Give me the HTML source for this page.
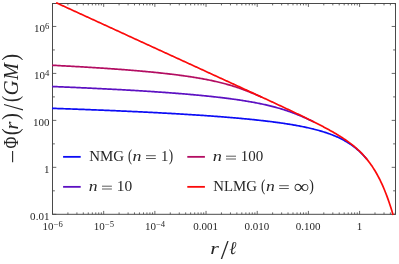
<!DOCTYPE html><html><head><meta charset="utf-8"><style>
html,body{margin:0;padding:0;background:#fff;}svg{display:block;will-change:transform;}text{font-family:"Liberation Serif",serif;fill:#262626;}.i{font-style:italic;}
</style></head><body>
<svg width="399" height="264" viewBox="0 0 399 264">
<rect width="399" height="264" fill="#fff"/>
<defs><clipPath id="cp"><rect x="51.3" y="2.0" width="345.0" height="213.4"/></clipPath></defs>
<rect x="52.5" y="3.5" width="343.0" height="210.8" fill="none" stroke="#4a4a4a" stroke-width="1.0"/>
<path d="M52.50,214.3 v-3.4 M52.50,3.5 v3.4 M67.91,214.3 v-1.9 M67.91,3.5 v1.9 M76.92,214.3 v-1.9 M76.92,3.5 v1.9 M83.31,214.3 v-1.9 M83.31,3.5 v1.9 M88.27,214.3 v-1.9 M88.27,3.5 v1.9 M92.33,214.3 v-1.9 M92.33,3.5 v1.9 M95.75,214.3 v-1.9 M95.75,3.5 v1.9 M98.72,214.3 v-1.9 M98.72,3.5 v1.9 M101.34,214.3 v-1.9 M101.34,3.5 v1.9 M103.68,214.3 v-3.4 M103.68,3.5 v3.4 M119.09,214.3 v-1.9 M119.09,3.5 v1.9 M128.10,214.3 v-1.9 M128.10,3.5 v1.9 M134.49,214.3 v-1.9 M134.49,3.5 v1.9 M139.45,214.3 v-1.9 M139.45,3.5 v1.9 M143.51,214.3 v-1.9 M143.51,3.5 v1.9 M146.93,214.3 v-1.9 M146.93,3.5 v1.9 M149.90,214.3 v-1.9 M149.90,3.5 v1.9 M152.52,214.3 v-1.9 M152.52,3.5 v1.9 M154.86,214.3 v-3.4 M154.86,3.5 v3.4 M170.27,214.3 v-1.9 M170.27,3.5 v1.9 M179.28,214.3 v-1.9 M179.28,3.5 v1.9 M185.67,214.3 v-1.9 M185.67,3.5 v1.9 M190.63,214.3 v-1.9 M190.63,3.5 v1.9 M194.69,214.3 v-1.9 M194.69,3.5 v1.9 M198.11,214.3 v-1.9 M198.11,3.5 v1.9 M201.08,214.3 v-1.9 M201.08,3.5 v1.9 M203.70,214.3 v-1.9 M203.70,3.5 v1.9 M206.04,214.3 v-3.4 M206.04,3.5 v3.4 M221.45,214.3 v-1.9 M221.45,3.5 v1.9 M230.46,214.3 v-1.9 M230.46,3.5 v1.9 M236.85,214.3 v-1.9 M236.85,3.5 v1.9 M241.81,214.3 v-1.9 M241.81,3.5 v1.9 M245.87,214.3 v-1.9 M245.87,3.5 v1.9 M249.29,214.3 v-1.9 M249.29,3.5 v1.9 M252.26,214.3 v-1.9 M252.26,3.5 v1.9 M254.88,214.3 v-1.9 M254.88,3.5 v1.9 M257.22,214.3 v-3.4 M257.22,3.5 v3.4 M272.63,214.3 v-1.9 M272.63,3.5 v1.9 M281.64,214.3 v-1.9 M281.64,3.5 v1.9 M288.03,214.3 v-1.9 M288.03,3.5 v1.9 M292.99,214.3 v-1.9 M292.99,3.5 v1.9 M297.05,214.3 v-1.9 M297.05,3.5 v1.9 M300.47,214.3 v-1.9 M300.47,3.5 v1.9 M303.44,214.3 v-1.9 M303.44,3.5 v1.9 M306.06,214.3 v-1.9 M306.06,3.5 v1.9 M308.40,214.3 v-3.4 M308.40,3.5 v3.4 M323.81,214.3 v-1.9 M323.81,3.5 v1.9 M332.82,214.3 v-1.9 M332.82,3.5 v1.9 M339.21,214.3 v-1.9 M339.21,3.5 v1.9 M344.17,214.3 v-1.9 M344.17,3.5 v1.9 M348.23,214.3 v-1.9 M348.23,3.5 v1.9 M351.65,214.3 v-1.9 M351.65,3.5 v1.9 M354.62,214.3 v-1.9 M354.62,3.5 v1.9 M357.24,214.3 v-1.9 M357.24,3.5 v1.9 M359.58,214.3 v-3.4 M359.58,3.5 v3.4 M374.99,214.3 v-1.9 M374.99,3.5 v1.9 M384.00,214.3 v-1.9 M384.00,3.5 v1.9 M390.39,214.3 v-1.9 M390.39,3.5 v1.9 M395.35,214.3 v-1.9 M395.35,3.5 v1.9 M52.5,214.30 h3.8 M395.5,214.30 h-3.8 M52.5,190.82 h2.4 M395.5,190.82 h-2.4 M52.5,167.34 h3.8 M395.5,167.34 h-3.8 M52.5,143.86 h2.4 M395.5,143.86 h-2.4 M52.5,120.38 h3.8 M395.5,120.38 h-3.8 M52.5,96.90 h2.4 M395.5,96.90 h-2.4 M52.5,73.42 h3.8 M395.5,73.42 h-3.8 M52.5,49.94 h2.4 M395.5,49.94 h-2.4 M52.5,26.46 h3.8 M395.5,26.46 h-3.8" stroke="#444" stroke-width="0.8" fill="none"/>
<g fill="none" stroke-width="1.7" stroke-linejoin="round" stroke-linecap="butt">
<path d="M52.00,108.32 L53.00,108.35 L54.00,108.39 L55.00,108.42 L56.00,108.46 L57.00,108.49 L58.00,108.53 L59.00,108.56 L60.00,108.60 L61.00,108.63 L62.00,108.67 L63.00,108.70 L64.00,108.74 L65.00,108.77 L66.00,108.81 L67.00,108.84 L68.00,108.88 L69.00,108.91 L70.00,108.95 L71.00,108.99 L72.00,109.02 L73.00,109.06 L74.00,109.10 L75.00,109.13 L76.00,109.17 L77.00,109.21 L78.00,109.24 L79.00,109.28 L80.00,109.32 L81.00,109.36 L82.00,109.39 L83.00,109.43 L84.00,109.47 L85.00,109.51 L86.00,109.55 L87.00,109.58 L88.00,109.62 L89.00,109.66 L90.00,109.70 L91.00,109.74 L92.00,109.78 L93.00,109.82 L94.00,109.86 L95.00,109.90 L96.00,109.94 L97.00,109.98 L98.00,110.02 L99.00,110.06 L100.00,110.10 L101.00,110.14 L102.00,110.18 L103.00,110.22 L104.00,110.26 L105.00,110.30 L106.00,110.34 L107.00,110.38 L108.00,110.43 L109.00,110.47 L110.00,110.51 L111.00,110.55 L112.00,110.59 L113.00,110.64 L114.00,110.68 L115.00,110.72 L116.00,110.77 L117.00,110.81 L118.00,110.85 L119.00,110.90 L120.00,110.94 L121.00,110.98 L122.00,111.03 L123.00,111.07 L124.00,111.12 L125.00,111.16 L126.00,111.21 L127.00,111.25 L128.00,111.30 L129.00,111.34 L130.00,111.39 L131.00,111.44 L132.00,111.48 L133.00,111.53 L134.00,111.57 L135.00,111.62 L136.00,111.67 L137.00,111.72 L138.00,111.76 L139.00,111.81 L140.00,111.86 L141.00,111.91 L142.00,111.96 L143.00,112.00 L144.00,112.05 L145.00,112.10 L146.00,112.15 L147.00,112.20 L148.00,112.25 L149.00,112.30 L150.00,112.35 L151.00,112.40 L152.00,112.45 L153.00,112.50 L154.00,112.56 L155.00,112.61 L156.00,112.66 L157.00,112.71 L158.00,112.76 L159.00,112.82 L160.00,112.87 L161.00,112.92 L162.00,112.98 L163.00,113.03 L164.00,113.08 L165.00,113.14 L166.00,113.19 L167.00,113.25 L168.00,113.30 L169.00,113.36 L170.00,113.41 L171.00,113.47 L172.00,113.53 L173.00,113.58 L174.00,113.64 L175.00,113.70 L176.00,113.76 L177.00,113.81 L178.00,113.87 L179.00,113.93 L180.00,113.99 L181.00,114.05 L182.00,114.11 L183.00,114.17 L184.00,114.23 L185.00,114.29 L186.00,114.35 L187.00,114.41 L188.00,114.48 L189.00,114.54 L190.00,114.60 L191.00,114.66 L192.00,114.73 L193.00,114.79 L194.00,114.86 L195.00,114.92 L196.00,114.98 L197.00,115.05 L198.00,115.12 L199.00,115.18 L200.00,115.25 L201.00,115.32 L202.00,115.38 L203.00,115.45 L204.00,115.52 L205.00,115.59 L206.00,115.66 L207.00,115.73 L208.00,115.80 L209.00,115.87 L210.00,115.94 L211.00,116.01 L212.00,116.09 L213.00,116.16 L214.00,116.23 L215.00,116.31 L216.00,116.38 L217.00,116.46 L218.00,116.53 L219.00,116.61 L220.00,116.69 L221.00,116.76 L222.00,116.84 L223.00,116.92 L224.00,117.00 L225.00,117.08 L226.00,117.16 L227.00,117.24 L228.00,117.32 L229.00,117.41 L230.00,117.49 L231.00,117.57 L232.00,117.66 L233.00,117.74 L234.00,117.83 L235.00,117.92 L236.00,118.00 L237.00,118.09 L238.00,118.18 L239.00,118.27 L240.00,118.36 L241.00,118.45 L242.00,118.54 L243.00,118.64 L244.00,118.73 L245.00,118.83 L246.00,118.92 L247.00,119.02 L248.00,119.12 L249.00,119.21 L250.00,119.31 L251.00,119.41 L252.00,119.51 L253.00,119.62 L254.00,119.72 L255.00,119.82 L256.00,119.93 L257.00,120.04 L258.00,120.14 L259.00,120.25 L260.00,120.36 L261.00,120.47 L262.00,120.59 L263.00,120.70 L264.00,120.82 L265.00,120.93 L266.00,121.05 L267.00,121.17 L268.00,121.29 L269.00,121.41 L270.00,121.53 L271.00,121.66 L272.00,121.78 L273.00,121.91 L274.00,122.04 L275.00,122.17 L276.00,122.31 L277.00,122.44 L278.00,122.58 L279.00,122.71 L280.00,122.85 L281.00,123.00 L282.00,123.14 L283.00,123.28 L284.00,123.43 L285.00,123.58 L286.00,123.73 L287.00,123.89 L288.00,124.05 L289.00,124.20 L290.00,124.37 L291.00,124.53 L292.00,124.70 L293.00,124.87 L294.00,125.04 L295.00,125.21 L296.00,125.39 L297.00,125.57 L298.00,125.75 L299.00,125.94 L300.00,126.13 L301.00,126.32 L302.00,126.52 L303.00,126.72 L304.00,126.92 L305.00,127.13 L306.00,127.34 L307.00,127.56 L308.00,127.78 L309.00,128.00 L310.00,128.23 L311.00,128.47 L312.00,128.71 L313.00,128.95 L314.00,129.20 L315.00,129.45 L316.00,129.71 L317.00,129.98 L318.00,130.25 L319.00,130.53 L320.00,130.81 L321.00,131.10 L322.00,131.40 L323.00,131.70 L324.00,132.01 L325.00,132.33 L326.00,132.66 L327.00,133.00 L328.00,133.34 L329.00,133.69 L330.00,134.06 L331.00,134.43 L332.00,134.81 L333.00,135.20 L334.00,135.61 L335.00,136.02 L336.00,136.45 L337.00,136.89 L338.00,137.34 L339.00,137.81 L340.00,138.29 L341.00,138.78 L342.00,139.29 L343.00,139.81 L344.00,140.35 L345.00,140.91 L346.00,141.49 L347.00,142.08 L348.00,142.70 L349.00,143.33 L350.00,143.99 L351.00,144.66 L352.00,145.36 L353.00,146.09 L354.00,146.84 L355.00,147.61 L356.00,148.41 L357.00,149.24 L358.00,150.10 L359.00,150.99 L360.00,151.92 L361.00,152.87 L362.00,153.87 L363.00,154.90 L364.00,155.96 L365.00,157.07 L366.00,158.22 L367.00,159.42" stroke="#0c0cf5"/>
<path d="M52.00,86.50 L53.00,86.54 L54.00,86.58 L55.00,86.62 L56.00,86.66 L57.00,86.70 L58.00,86.74 L59.00,86.79 L60.00,86.83 L61.00,86.87 L62.00,86.91 L63.00,86.95 L64.00,86.99 L65.00,87.04 L66.00,87.08 L67.00,87.12 L68.00,87.16 L69.00,87.21 L70.00,87.25 L71.00,87.29 L72.00,87.33 L73.00,87.38 L74.00,87.42 L75.00,87.47 L76.00,87.51 L77.00,87.55 L78.00,87.60 L79.00,87.64 L80.00,87.69 L81.00,87.73 L82.00,87.78 L83.00,87.82 L84.00,87.87 L85.00,87.91 L86.00,87.96 L87.00,88.01 L88.00,88.05 L89.00,88.10 L90.00,88.15 L91.00,88.19 L92.00,88.24 L93.00,88.29 L94.00,88.34 L95.00,88.38 L96.00,88.43 L97.00,88.48 L98.00,88.53 L99.00,88.58 L100.00,88.63 L101.00,88.68 L102.00,88.73 L103.00,88.78 L104.00,88.83 L105.00,88.88 L106.00,88.93 L107.00,88.98 L108.00,89.03 L109.00,89.08 L110.00,89.13 L111.00,89.19 L112.00,89.24 L113.00,89.29 L114.00,89.34 L115.00,89.40 L116.00,89.45 L117.00,89.50 L118.00,89.56 L119.00,89.61 L120.00,89.66 L121.00,89.72 L122.00,89.77 L123.00,89.83 L124.00,89.88 L125.00,89.94 L126.00,90.00 L127.00,90.05 L128.00,90.11 L129.00,90.17 L130.00,90.22 L131.00,90.28 L132.00,90.34 L133.00,90.40 L134.00,90.46 L135.00,90.52 L136.00,90.58 L137.00,90.64 L138.00,90.70 L139.00,90.76 L140.00,90.82 L141.00,90.88 L142.00,90.94 L143.00,91.00 L144.00,91.07 L145.00,91.13 L146.00,91.19 L147.00,91.25 L148.00,91.32 L149.00,91.38 L150.00,91.45 L151.00,91.51 L152.00,91.58 L153.00,91.64 L154.00,91.71 L155.00,91.78 L156.00,91.84 L157.00,91.91 L158.00,91.98 L159.00,92.05 L160.00,92.12 L161.00,92.19 L162.00,92.26 L163.00,92.33 L164.00,92.40 L165.00,92.47 L166.00,92.54 L167.00,92.62 L168.00,92.69 L169.00,92.76 L170.00,92.84 L171.00,92.91 L172.00,92.99 L173.00,93.06 L174.00,93.14 L175.00,93.22 L176.00,93.29 L177.00,93.37 L178.00,93.45 L179.00,93.53 L180.00,93.61 L181.00,93.69 L182.00,93.77 L183.00,93.85 L184.00,93.94 L185.00,94.02 L186.00,94.10 L187.00,94.19 L188.00,94.27 L189.00,94.36 L190.00,94.45 L191.00,94.53 L192.00,94.62 L193.00,94.71 L194.00,94.80 L195.00,94.89 L196.00,94.98 L197.00,95.08 L198.00,95.17 L199.00,95.26 L200.00,95.36 L201.00,95.45 L202.00,95.55 L203.00,95.65 L204.00,95.75 L205.00,95.84 L206.00,95.94 L207.00,96.05 L208.00,96.15 L209.00,96.25 L210.00,96.36 L211.00,96.46 L212.00,96.57 L213.00,96.68 L214.00,96.79 L215.00,96.90 L216.00,97.01 L217.00,97.12 L218.00,97.23 L219.00,97.35 L220.00,97.46 L221.00,97.58 L222.00,97.70 L223.00,97.82 L224.00,97.94 L225.00,98.07 L226.00,98.19 L227.00,98.32 L228.00,98.44 L229.00,98.57 L230.00,98.70 L231.00,98.84 L232.00,98.97 L233.00,99.11 L234.00,99.25 L235.00,99.38 L236.00,99.53 L237.00,99.67 L238.00,99.81 L239.00,99.96 L240.00,100.11 L241.00,100.26 L242.00,100.42 L243.00,100.57 L244.00,100.73 L245.00,100.89 L246.00,101.05 L247.00,101.22 L248.00,101.39 L249.00,101.56 L250.00,101.73 L251.00,101.91 L252.00,102.08 L253.00,102.26 L254.00,102.45 L255.00,102.64 L256.00,102.83 L257.00,103.02 L258.00,103.22 L259.00,103.42 L260.00,103.62 L261.00,103.83 L262.00,104.04 L263.00,104.25 L264.00,104.47 L265.00,104.69 L266.00,104.92 L267.00,105.15 L268.00,105.38 L269.00,105.62 L270.00,105.86 L271.00,106.11 L272.00,106.36 L273.00,106.62 L274.00,106.88 L275.00,107.15 L276.00,107.42 L277.00,107.70 L278.00,107.98 L279.00,108.26 L280.00,108.56 L281.00,108.86 L282.00,109.16 L283.00,109.47 L284.00,109.78 L285.00,110.10 L286.00,110.43 L287.00,110.76 L288.00,111.10 L289.00,111.45 L290.00,111.80 L291.00,112.16 L292.00,112.52 L293.00,112.89 L294.00,113.27 L295.00,113.65 L296.00,114.04 L297.00,114.44 L298.00,114.84 L299.00,115.25 L300.00,115.66 L301.00,116.08 L302.00,116.51 L303.00,116.94 L304.00,117.38 L305.00,117.82 L306.00,118.27 L307.00,118.72 L308.00,119.18 L309.00,119.65 L310.00,120.11 L311.00,120.59 L312.00,121.07 L313.00,121.55 L314.00,122.04" stroke="#5c10c2"/>
<path d="M52.00,65.27 L53.00,65.32 L54.00,65.37 L55.00,65.42 L56.00,65.47 L57.00,65.52 L58.00,65.58 L59.00,65.63 L60.00,65.68 L61.00,65.73 L62.00,65.78 L63.00,65.84 L64.00,65.89 L65.00,65.94 L66.00,66.00 L67.00,66.05 L68.00,66.10 L69.00,66.16 L70.00,66.21 L71.00,66.27 L72.00,66.32 L73.00,66.38 L74.00,66.43 L75.00,66.49 L76.00,66.54 L77.00,66.60 L78.00,66.66 L79.00,66.72 L80.00,66.77 L81.00,66.83 L82.00,66.89 L83.00,66.95 L84.00,67.01 L85.00,67.07 L86.00,67.13 L87.00,67.19 L88.00,67.25 L89.00,67.31 L90.00,67.37 L91.00,67.43 L92.00,67.49 L93.00,67.55 L94.00,67.62 L95.00,67.68 L96.00,67.74 L97.00,67.81 L98.00,67.87 L99.00,67.93 L100.00,68.00 L101.00,68.07 L102.00,68.13 L103.00,68.20 L104.00,68.26 L105.00,68.33 L106.00,68.40 L107.00,68.47 L108.00,68.53 L109.00,68.60 L110.00,68.67 L111.00,68.74 L112.00,68.81 L113.00,68.88 L114.00,68.96 L115.00,69.03 L116.00,69.10 L117.00,69.17 L118.00,69.25 L119.00,69.32 L120.00,69.39 L121.00,69.47 L122.00,69.54 L123.00,69.62 L124.00,69.70 L125.00,69.77 L126.00,69.85 L127.00,69.93 L128.00,70.01 L129.00,70.09 L130.00,70.17 L131.00,70.25 L132.00,70.33 L133.00,70.41 L134.00,70.50 L135.00,70.58 L136.00,70.67 L137.00,70.75 L138.00,70.84 L139.00,70.92 L140.00,71.01 L141.00,71.10 L142.00,71.19 L143.00,71.28 L144.00,71.37 L145.00,71.46 L146.00,71.55 L147.00,71.64 L148.00,71.73 L149.00,71.83 L150.00,71.92 L151.00,72.02 L152.00,72.12 L153.00,72.22 L154.00,72.31 L155.00,72.41 L156.00,72.52 L157.00,72.62 L158.00,72.72 L159.00,72.82 L160.00,72.93 L161.00,73.03 L162.00,73.14 L163.00,73.25 L164.00,73.36 L165.00,73.47 L166.00,73.58 L167.00,73.70 L168.00,73.81 L169.00,73.93 L170.00,74.04 L171.00,74.16 L172.00,74.28 L173.00,74.40 L174.00,74.52 L175.00,74.65 L176.00,74.77 L177.00,74.90 L178.00,75.03 L179.00,75.16 L180.00,75.29 L181.00,75.42 L182.00,75.56 L183.00,75.69 L184.00,75.83 L185.00,75.97 L186.00,76.12 L187.00,76.26 L188.00,76.41 L189.00,76.55 L190.00,76.70 L191.00,76.86 L192.00,77.01 L193.00,77.17 L194.00,77.33 L195.00,77.49 L196.00,77.65 L197.00,77.82 L198.00,77.99 L199.00,78.16 L200.00,78.33 L201.00,78.51 L202.00,78.69 L203.00,78.87 L204.00,79.06 L205.00,79.25 L206.00,79.44 L207.00,79.63 L208.00,79.83 L209.00,80.03 L210.00,80.24 L211.00,80.44 L212.00,80.66 L213.00,80.87 L214.00,81.09 L215.00,81.31 L216.00,81.54 L217.00,81.77 L218.00,82.01 L219.00,82.25 L220.00,82.49 L221.00,82.74 L222.00,82.99 L223.00,83.25 L224.00,83.51 L225.00,83.78 L226.00,84.05 L227.00,84.32 L228.00,84.61 L229.00,84.89 L230.00,85.18 L231.00,85.48 L232.00,85.78 L233.00,86.09 L234.00,86.41 L235.00,86.73 L236.00,87.05 L237.00,87.38 L238.00,87.72 L239.00,88.06 L240.00,88.41 L241.00,88.76 L242.00,89.12 L243.00,89.48 L244.00,89.85 L245.00,90.23 L246.00,90.61 L247.00,90.99 L248.00,91.38 L249.00,91.78 L250.00,92.18 L251.00,92.59 L252.00,93.00 L253.00,93.42 L254.00,93.84 L255.00,94.26 L256.00,94.69 L257.00,95.12 L258.00,95.55 L259.00,95.99 L260.00,96.43 L261.00,96.88 L262.00,97.33" stroke="#b30d62"/>
<path d="M56.10,2.70 L57.00,3.12 L58.00,3.57 L59.00,4.03 L60.00,4.49 L61.00,4.95 L62.00,5.41 L63.00,5.87 L64.00,6.33 L65.00,6.79 L66.00,7.24 L67.00,7.70 L68.00,8.16 L69.00,8.62 L70.00,9.08 L71.00,9.54 L72.00,10.00 L73.00,10.46 L74.00,10.91 L75.00,11.37 L76.00,11.83 L77.00,12.29 L78.00,12.75 L79.00,13.21 L80.00,13.67 L81.00,14.13 L82.00,14.58 L83.00,15.04 L84.00,15.50 L85.00,15.96 L86.00,16.42 L87.00,16.88 L88.00,17.34 L89.00,17.80 L90.00,18.25 L91.00,18.71 L92.00,19.17 L93.00,19.63 L94.00,20.09 L95.00,20.55 L96.00,21.01 L97.00,21.47 L98.00,21.92 L99.00,22.38 L100.00,22.84 L101.00,23.30 L102.00,23.76 L103.00,24.22 L104.00,24.68 L105.00,25.14 L106.00,25.59 L107.00,26.05 L108.00,26.51 L109.00,26.97 L110.00,27.43 L111.00,27.89 L112.00,28.35 L113.00,28.81 L114.00,29.27 L115.00,29.72 L116.00,30.18 L117.00,30.64 L118.00,31.10 L119.00,31.56 L120.00,32.02 L121.00,32.48 L122.00,32.94 L123.00,33.39 L124.00,33.85 L125.00,34.31 L126.00,34.77 L127.00,35.23 L128.00,35.69 L129.00,36.15 L130.00,36.61 L131.00,37.06 L132.00,37.52 L133.00,37.98 L134.00,38.44 L135.00,38.90 L136.00,39.36 L137.00,39.82 L138.00,40.28 L139.00,40.73 L140.00,41.19 L141.00,41.65 L142.00,42.11 L143.00,42.57 L144.00,43.03 L145.00,43.49 L146.00,43.95 L147.00,44.41 L148.00,44.86 L149.00,45.32 L150.00,45.78 L151.00,46.24 L152.00,46.70 L153.00,47.16 L154.00,47.62 L155.00,48.08 L156.00,48.53 L157.00,48.99 L158.00,49.45 L159.00,49.91 L160.00,50.37 L161.00,50.83 L162.00,51.29 L163.00,51.75 L164.00,52.20 L165.00,52.66 L166.00,53.12 L167.00,53.58 L168.00,54.04 L169.00,54.50 L170.00,54.96 L171.00,55.42 L172.00,55.88 L173.00,56.33 L174.00,56.79 L175.00,57.25 L176.00,57.71 L177.00,58.17 L178.00,58.63 L179.00,59.09 L180.00,59.55 L181.00,60.01 L182.00,60.46 L183.00,60.92 L184.00,61.38 L185.00,61.84 L186.00,62.30 L187.00,62.76 L188.00,63.22 L189.00,63.68 L190.00,64.14 L191.00,64.59 L192.00,65.05 L193.00,65.51 L194.00,65.97 L195.00,66.43 L196.00,66.89 L197.00,67.35 L198.00,67.81 L199.00,68.27 L200.00,68.72 L201.00,69.18 L202.00,69.64 L203.00,70.10 L204.00,70.56 L205.00,71.02 L206.00,71.48 L207.00,71.94 L208.00,72.40 L209.00,72.86 L210.00,73.32 L211.00,73.77 L212.00,74.23 L213.00,74.69 L214.00,75.15 L215.00,75.61 L216.00,76.07 L217.00,76.53 L218.00,76.99 L219.00,77.45 L220.00,77.91 L221.00,78.37 L222.00,78.83 L223.00,79.29 L224.00,79.75 L225.00,80.21 L226.00,80.67 L227.00,81.12 L228.00,81.58 L229.00,82.04 L230.00,82.50 L231.00,82.96 L232.00,83.42 L233.00,83.88 L234.00,84.34 L235.00,84.80 L236.00,85.26 L237.00,85.72 L238.00,86.18 L239.00,86.64 L240.00,87.10 L241.00,87.56 L242.00,88.02 L243.00,88.48 L244.00,88.94 L245.00,89.41 L246.00,89.87 L247.00,90.33 L248.00,90.79 L249.00,91.25 L250.00,91.71 L251.00,92.17 L252.00,92.63 L253.00,93.09 L254.00,93.55 L255.00,94.02 L256.00,94.48 L257.00,94.94 L258.00,95.40 L259.00,95.86 L260.00,96.33 L261.00,96.79 L262.00,97.25 L263.00,97.71 L264.00,98.18 L265.00,98.64 L266.00,99.10 L267.00,99.57 L268.00,100.03 L269.00,100.50 L270.00,100.96 L271.00,101.42 L272.00,101.89 L273.00,102.35 L274.00,102.82 L275.00,103.29 L276.00,103.75 L277.00,104.22 L278.00,104.69 L279.00,105.15 L280.00,105.62 L281.00,106.09 L282.00,106.56 L283.00,107.03 L284.00,107.50 L285.00,107.96 L286.00,108.44 L287.00,108.91 L288.00,109.38 L289.00,109.85 L290.00,110.32 L291.00,110.80 L292.00,111.27 L293.00,111.75 L294.00,112.22 L295.00,112.70 L296.00,113.17 L297.00,113.65 L298.00,114.13 L299.00,114.61 L300.00,115.09 L301.00,115.57 L302.00,116.06 L303.00,116.54 L304.00,117.03 L305.00,117.52 L306.00,118.00 L307.00,118.49 L308.00,118.98 L309.00,119.48 L310.00,119.97 L311.00,120.47 L312.00,120.97 L313.00,121.47 L314.00,121.97 L315.00,122.47 L316.00,122.98 L317.00,123.49 L318.00,124.00 L319.00,124.52 L320.00,125.03 L321.00,125.55 L322.00,126.08 L323.00,126.60 L324.00,127.13 L325.00,127.67 L326.00,128.20 L327.00,128.75 L328.00,129.29 L329.00,129.84 L330.00,130.40 L331.00,130.96 L332.00,131.52 L333.00,132.10 L334.00,132.67 L335.00,133.26 L336.00,133.85 L337.00,134.45 L338.00,135.05 L339.00,135.67 L340.00,136.29 L341.00,136.92 L342.00,137.56 L343.00,138.22 L344.00,138.88 L345.00,139.55 L346.00,140.24 L347.00,140.94 L348.00,141.65 L349.00,142.38 L350.00,143.12 L351.00,143.88 L352.00,144.66 L353.00,145.46 L354.00,146.28 L355.00,147.11 L356.00,147.97 L357.00,148.86 L358.00,149.77 L359.00,150.70 L360.00,151.66 L361.00,152.66 L362.00,153.68 L363.00,154.74 L364.00,155.83 L365.00,156.96 L366.00,158.13 L367.00,159.34 L368.00,160.60 L369.00,161.90 L370.00,163.24 L371.00,164.64 L372.00,166.09 L373.00,167.60 L374.00,169.17 L375.00,170.80 L376.00,172.49 L377.00,174.25 L378.00,176.09 L379.00,177.99 L380.00,179.98 L381.00,182.04 L382.00,184.19 L383.00,186.43 L384.00,188.77 L385.00,191.20 L386.00,193.73 L387.00,196.37 L388.00,199.12 L389.00,201.99 L390.00,204.98 L391.00,208.10 L392.00,211.35 L393.00,214.74 L393.10,215.10" stroke="#fb0a0a"/>
</g>
<text transform="translate(49.40,31.76) scale(1.08,1)" font-size="10.2" text-anchor="end">10<tspan font-size="8.0" dy="-3.0">6</tspan></text>
<text transform="translate(49.40,78.72) scale(1.08,1)" font-size="10.2" text-anchor="end">10<tspan font-size="8.0" dy="-3.0">4</tspan></text>
<text transform="translate(49.40,125.68) scale(1.08,1)" font-size="10.2" text-anchor="end">100</text>
<text transform="translate(49.40,172.64) scale(1.08,1)" font-size="10.2" text-anchor="end">1</text>
<text transform="translate(49.40,219.60) scale(1.08,1)" font-size="10.2" text-anchor="end">0.01</text>
<text transform="translate(52.70,230.00) scale(1.08,1)" font-size="10.2" text-anchor="middle">10<tspan font-size="8.0" dy="-3.0">−6</tspan></text>
<text transform="translate(103.88,230.00) scale(1.08,1)" font-size="10.2" text-anchor="middle">10<tspan font-size="8.0" dy="-3.0">−5</tspan></text>
<text transform="translate(155.06,230.00) scale(1.08,1)" font-size="10.2" text-anchor="middle">10<tspan font-size="8.0" dy="-3.0">−4</tspan></text>
<text transform="translate(205.74,230.00) scale(1.08,1)" font-size="10.2" text-anchor="middle">0.001</text>
<text transform="translate(256.92,230.00) scale(1.08,1)" font-size="10.2" text-anchor="middle">0.010</text>
<text transform="translate(308.10,230.00) scale(1.08,1)" font-size="10.2" text-anchor="middle">0.100</text>
<text transform="translate(359.58,230.00) scale(1.08,1)" font-size="10.2" text-anchor="middle">1</text>
<text class="i" transform="translate(210.22,254.30) scale(2.210,1.762)" font-size="10">r</text>
<text transform="translate(220.70,258.52) scale(2.842,2.765)" font-size="10">/</text>
<text class="i" transform="translate(229.26,254.32) scale(1.709,1.849)" font-size="10">ℓ</text>
<g transform="translate(18.1,162.4) rotate(-90)">
<text transform="translate(-1.00,1.75) scale(2.441,2.200)" font-size="10">−</text>
<text transform="translate(13.91,0.00) scale(0.792,1.000)" font-size="20.5">Φ</text>
<text transform="translate(27.12,0.20) scale(2.054,2.205)" font-size="10">(</text>
<text class="i" transform="translate(33.00,0.00) scale(2.011,1.847)" font-size="10">r</text>
<text transform="translate(42.34,0.20) scale(2.054,2.205)" font-size="10">)</text>
<text transform="translate(51.80,4.60) scale(2.374,2.990)" font-size="10">/</text>
<text transform="translate(60.30,0.20) scale(1.860,2.205)" font-size="10">(</text>
<text class="i" transform="translate(66.85,0.00) scale(1.019,1.000)" font-size="20.5">G</text>
<text class="i" transform="translate(82.64,0.00) scale(0.975,1.000)" font-size="20.5">M</text>
<text transform="translate(101.74,0.20) scale(2.054,2.205)" font-size="10">)</text>
</g>
<path d="M63.1,156.85 h17.6" stroke="#0c0cf5" stroke-width="1.8"/>
<path d="M63.1,186.85 h17.6" stroke="#5c10c2" stroke-width="1.8"/>
<path d="M187.3,156.85 h17.6" stroke="#b30d62" stroke-width="1.8"/>
<path d="M187.3,186.85 h17.6" stroke="#fb0a0a" stroke-width="1.8"/>
<text transform="translate(89.18,160.70) scale(1.065,1.000)" font-size="14.0">NMG</text>
<text transform="translate(127.97,160.97) scale(1.240,1.566)" font-size="10">(</text>
<text class="i" transform="translate(132.47,160.70) scale(1.179,1.000)" font-size="15.2">n</text>
<path d="M146.00,155.70 H155.80 M146.00,158.50 H155.80" stroke="#262626" stroke-width="0.75" fill="none"/>
<text transform="translate(160.92,160.70) scale(0.969,1.000)" font-size="15.2">1</text>
<text transform="translate(168.68,160.97) scale(1.318,1.566)" font-size="10">)</text>
<text class="i" transform="translate(88.78,191.20) scale(1.164,1.000)" font-size="15.2">n</text>
<path d="M102.00,186.20 H111.90 M102.00,189.00 H111.90" stroke="#262626" stroke-width="0.75" fill="none"/>
<text transform="translate(116.76,191.20) scale(1.015,1.000)" font-size="15.2">10</text>
<text class="i" transform="translate(212.76,161.40) scale(1.210,1.000)" font-size="15.2">n</text>
<path d="M226.00,156.20 H236.00 M226.00,159.00 H236.00" stroke="#262626" stroke-width="0.75" fill="none"/>
<text transform="translate(240.80,161.40) scale(0.986,1.000)" font-size="15.2">100</text>
<text transform="translate(213.28,190.70) scale(1.060,1.000)" font-size="14.0">NLMG</text>
<text transform="translate(261.03,190.97) scale(1.318,1.566)" font-size="10">(</text>
<text class="i" transform="translate(265.98,190.70) scale(1.164,1.000)" font-size="15.2">n</text>
<path d="M279.20,185.70 H288.80 M279.20,188.50 H288.80" stroke="#262626" stroke-width="0.75" fill="none"/>
<text transform="translate(293.49,193.00) scale(2.194,1.916)" font-size="10">∞</text>
<text transform="translate(309.15,190.97) scale(1.395,1.566)" font-size="10">)</text>
</svg></body></html>
